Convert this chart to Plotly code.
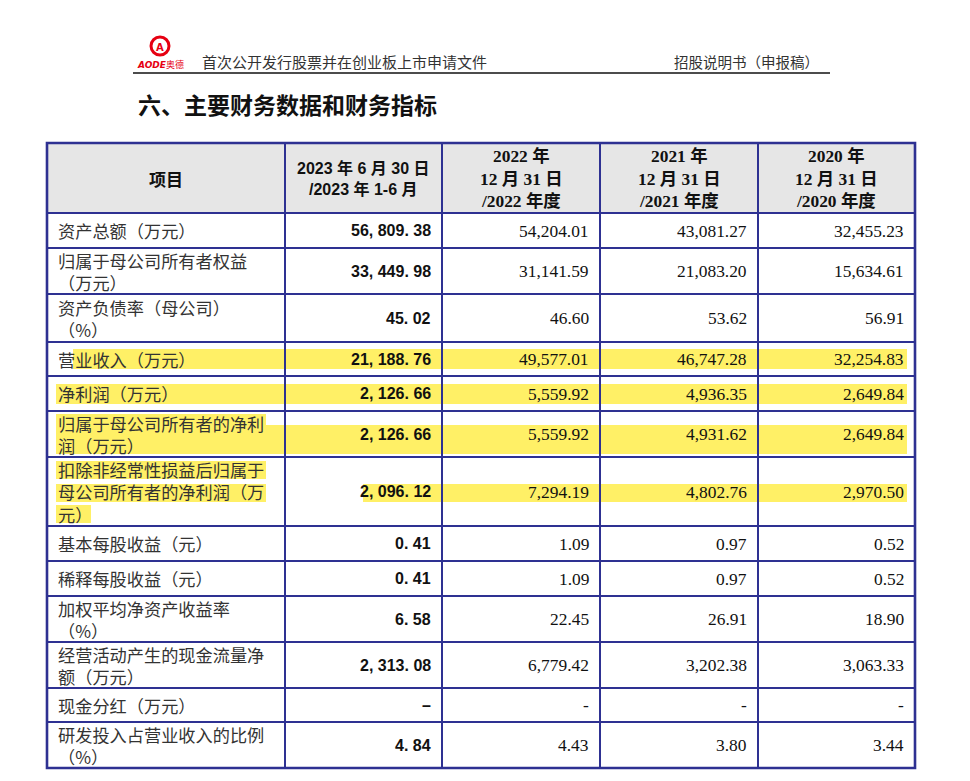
import plotly.graph_objects as go

# --- table data ---
ITEMS = [
    "资产总额（万元）",
    "归属于母公司所有者权益<br>（万元）",
    "资产负债率（母公司）<br>（%）",
    "营业收入（万元）",
    "净利润（万元）",
    "归属于母公司所有者的净利<br>润（万元）",
    "扣除非经常性损益后归属于<br>母公司所有者的净利润（万<br>元）",
    "基本每股收益（元）",
    "稀释每股收益（元）",
    "加权平均净资产收益率<br>（%）",
    "经营活动产生的现金流量净<br>额（万元）",
    "现金分红（万元）",
    "研发投入占营业收入的比例<br>（%）",
]
HEADERS = [
    "项目",
    "2023 年 6 月 30 日<br>/2023 年 1-6 月",
    "2022 年<br>12 月 31 日<br>/2022 年度",
    "2021 年<br>12 月 31 日<br>/2021 年度",
    "2020 年<br>12 月 31 日<br>/2020 年度",
]
V2023 = [56809.38, 33449.98, 45.02, 21188.76, 2126.66, 2126.66, 2096.12, 0.41, 0.41, 6.58, 2313.08, None, 4.84]
V2022 = [54204.01, 31141.59, 46.60, 49577.01, 5559.92, 5559.92, 7294.19, 1.09, 1.09, 22.45, 6779.42, None, 4.43]
V2021 = [43081.27, 21083.20, 53.62, 46747.28, 4936.35, 4931.62, 4802.76, 0.97, 0.97, 26.91, 3202.38, None, 3.80]
V2020 = [32455.23, 15634.61, 56.91, 32254.83, 2649.84, 2649.84, 2970.50, 0.52, 0.52, 18.90, 3063.33, None, 3.44]

# --- page geometry / styles ---
W, H = 970, 781
OFFSET = 8  # default body margin of the html page
COL_EDGES = [47, 285, 442, 600, 758, 915]
TABLE_TOP = 143
HEADER_H = 70
ROW_H = [35, 46, 48, 34, 35, 46, 69, 35, 35, 46, 46, 34, 46]
BORDER = "#2e3192"
YELLOW = "#fff066"
CJK = "Noto Sans CJK SC"
SERIF = "Liberation Serif, " + CJK
SANS = "Liberation Sans, " + CJK


def fmt_first(v):
    if v is None:
        return "–"
    return "{:,.2f}".format(v).replace(",", ", ").replace(".", ". ")


def fmt(v):
    if v is None:
        return "-"
    return "{:,.2f}".format(v)


row_tops = [TABLE_TOP + HEADER_H]
for h in ROW_H:
    row_tops.append(row_tops[-1] + h)
table_bottom = row_tops[-1]

fig = go.Figure()
fig.add_trace(go.Scatter(x=[OFFSET, W + OFFSET], y=[OFFSET, H + OFFSET], mode="markers",
                         marker=dict(opacity=0), hoverinfo="skip", showlegend=False))

# highlighted passages (row index, x0, x1, offset top, offset bottom)
HIGHLIGHTS = [
    (3, 73, 907, 7, 27),
    (4, 56, 907, 8, 28),
    (5, 56, 266, 3, 21),
    (5, 56, 907, 14, 43),
    (6, 56, 266, 4, 22),
    (6, 56, 266, 27, 45),
    (6, 56, 91, 48, 66),
    (6, 363, 907, 27, 45),
]
for r, x0, x1, d0, d1 in HIGHLIGHTS:
    fig.add_shape(type="rect", x0=x0, x1=x1, y0=row_tops[r] + d0, y1=row_tops[r] + d1,
                  fillcolor=YELLOW, line_width=0, layer="below")
fig.add_shape(type="rect", x0=965, x1=970, y0=528, y1=546, fillcolor=YELLOW, line_width=0, layer="below")

# header background
fig.add_shape(type="rect", x0=COL_EDGES[0], x1=COL_EDGES[-1], y0=TABLE_TOP, y1=TABLE_TOP + HEADER_H,
              fillcolor="#e6e6e6", line_width=0, layer="below")

# grid lines
for y in [TABLE_TOP + HEADER_H] + row_tops[1:-1]:
    fig.add_shape(type="line", x0=COL_EDGES[0], x1=COL_EDGES[-1], y0=y, y1=y,
                  line=dict(color=BORDER, width=2))
for x in COL_EDGES[1:-1]:
    fig.add_shape(type="line", x0=x, x1=x, y0=TABLE_TOP, y1=table_bottom,
                  line=dict(color=BORDER, width=2))
fig.add_shape(type="rect", x0=COL_EDGES[0], x1=COL_EDGES[-1], y0=TABLE_TOP, y1=table_bottom,
              line=dict(color=BORDER, width=2.6))

# header text
hy = TABLE_TOP + HEADER_H / 2
for i, txt in enumerate(HEADERS):
    cx = (COL_EDGES[i] + COL_EDGES[i + 1]) / 2
    if i == 0:
        font = dict(family=CJK, size=17, color="#111")
    elif i == 1:
        font = dict(family=SANS, size=16, color="#111")
    else:
        font = dict(family=SERIF, size=17.4, color="#111")
    fig.add_annotation(x=cx, y=hy, text="<b>" + txt + "</b>", showarrow=False,
                       xanchor="center", yanchor="middle", font=font)

# body text
for r, item in enumerate(ITEMS):
    cy = (row_tops[r] + row_tops[r + 1]) / 2
    fig.add_annotation(x=COL_EDGES[0] + 9, y=cy, text=item, showarrow=False, align="left",
                       xanchor="left", yanchor="middle",
                       font=dict(family=CJK, size=17.2, color="#333"))
    fig.add_annotation(x=COL_EDGES[2] - 9, y=cy, text="<b>" + fmt_first(V2023[r]) + "</b>",
                       showarrow=False, xanchor="right", yanchor="middle",
                       font=dict(family=SANS, size=16, color="#111"))
    for c, vals in enumerate([V2022, V2021, V2020]):
        fig.add_annotation(x=COL_EDGES[c + 3] - 9, y=cy, text=fmt(vals[r]), showarrow=False,
                           xanchor="right", yanchor="middle",
                           font=dict(family=SERIF, size=17.4, color="#111"))

# page header
fig.add_shape(type="line", x0=133, x1=830, y0=73, y1=73, line=dict(color="#111", width=1.5))
fig.add_shape(type="circle", x0=151, x1=169, y0=37, y1=55, line=dict(color="#e60012", width=3))
fig.add_annotation(x=160, y=47, text="<b>A</b>", showarrow=False, xanchor="center", yanchor="middle",
                   font=dict(family="DejaVu Sans", size=10, color="#e60012"))
fig.add_annotation(x=135, y=64, text="<b><i>AODE</i></b>奥德", showarrow=False, xanchor="left",
                   yanchor="middle", font=dict(family="DejaVu Sans, " + CJK, size=9, color="#e60012"))
fig.add_annotation(x=200, y=61, text="首次公开发行股票并在创业板上市申请文件", showarrow=False,
                   xanchor="left", yanchor="middle", font=dict(family=CJK, size=15, color="#333"))
fig.add_annotation(x=672, y=61, text="招股说明书（申报稿）", showarrow=False,
                   xanchor="left", yanchor="middle", font=dict(family=CJK, size=14.5, color="#333"))

# section title
fig.add_annotation(x=136, y=104, text="<b>六、主要财务数据和财务指标</b>", showarrow=False,
                   xanchor="left", yanchor="middle", font=dict(family=CJK, size=23, color="#111"))

fig.update_xaxes(range=[OFFSET, W + OFFSET], visible=False, fixedrange=True)
fig.update_yaxes(range=[H + OFFSET, OFFSET], visible=False, fixedrange=True)
fig.update_layout(width=W, height=H, margin=dict(l=0, r=0, t=0, b=0),
                  paper_bgcolor="white", plot_bgcolor="white", showlegend=False)

fig.write_html("out.html")
